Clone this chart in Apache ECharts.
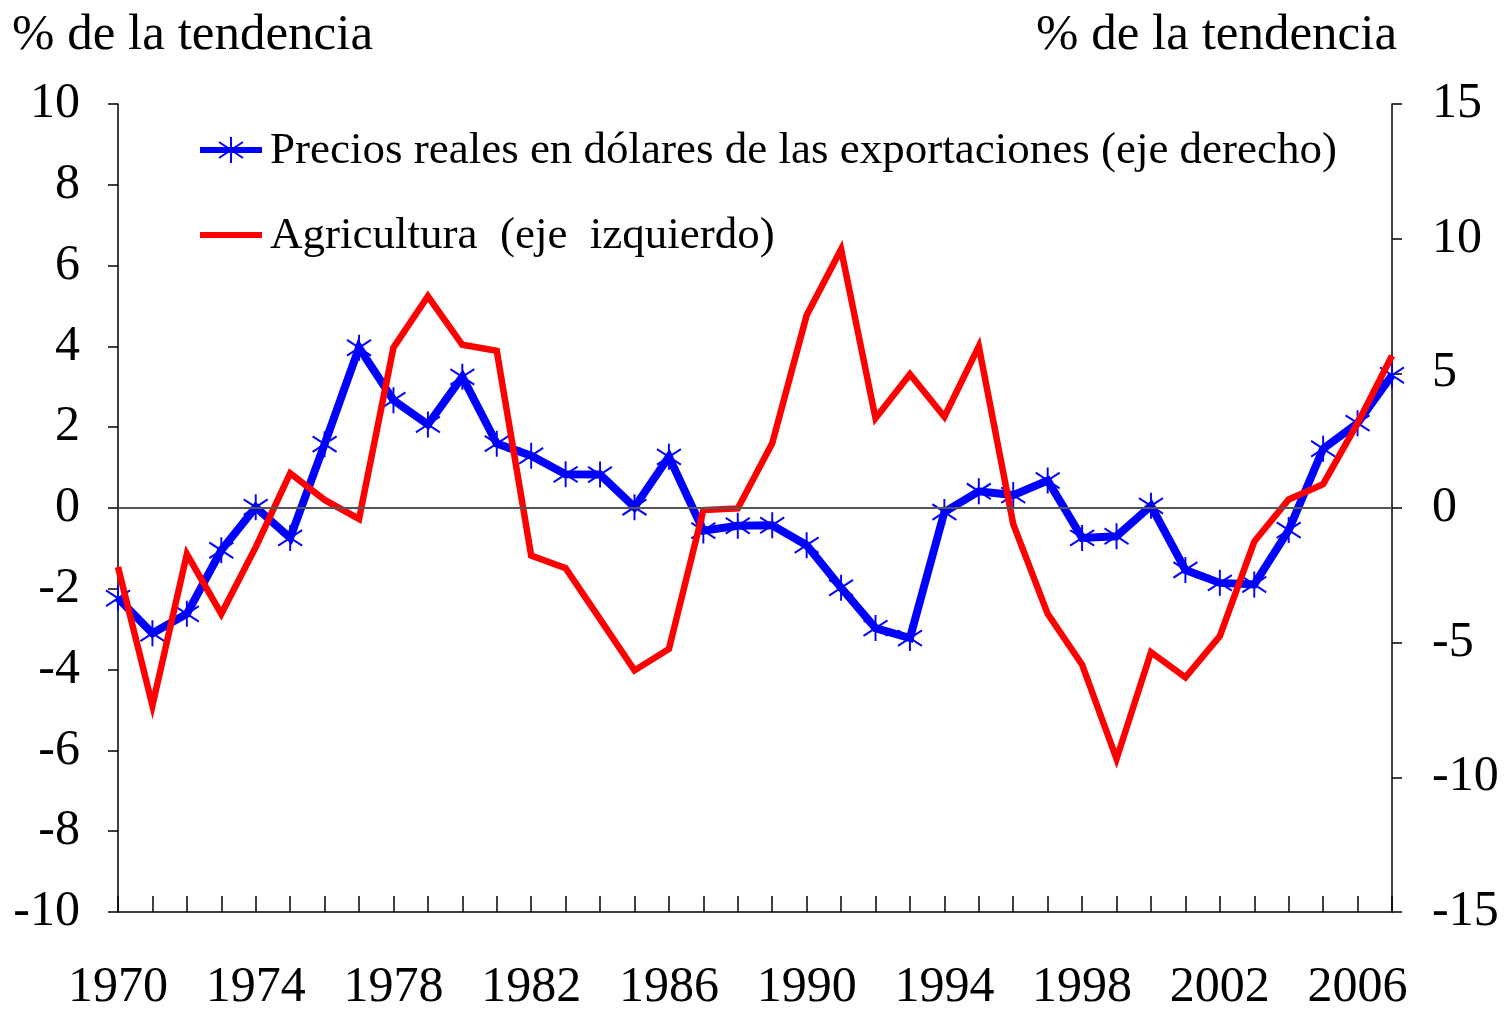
<!DOCTYPE html>
<html>
<head>
<meta charset="utf-8">
<script src="https://cdn.jsdelivr.net/npm/echarts@6/dist/echarts.min.js"></script>
<style>
html,body{margin:0;padding:0;background:#fff;}
#chart{width:1506px;height:1013px;}
</style>
</head>
<body>
<div id="chart"></div>
<script>
var years = ['1970','1971','1972','1973','1974','1975','1976','1977','1978','1979',
  '1980','1981','1982','1983','1984','1985','1986','1987','1988','1989',
  '1990','1991','1992','1993','1994','1995','1996','1997','1998','1999',
  '2000','2001','2002','2003','2004','2005','2006','2007'];
// Right axis series
var preciosReales = [-3.35,-4.65,-3.93,-1.57,0.03,-1.11,2.37,5.95,4.0,3.1,
  4.87,2.39,1.94,1.25,1.24,0.03,1.9,-0.84,-0.66,-0.64,
  -1.38,-2.96,-4.46,-4.83,-0.15,0.62,0.48,1.02,-1.11,-1.05,
  0.08,-2.3,-2.78,-2.84,-0.82,2.2,3.15,4.93];
// Left axis series
var agricultura = [-1.46,-4.89,-1.14,-2.62,-0.97,0.86,0.2,-0.27,3.97,5.24,
  4.04,3.89,-1.18,-1.49,-2.75,-4.02,-3.49,-0.05,-0.01,1.6,
  4.77,6.4,2.22,3.31,2.26,4.0,-0.4,-2.62,-3.88,-6.21,
  -3.57,-4.19,-3.17,-0.83,0.21,0.59,2.1,3.77];
var nameBlue = 'Precios reales en dólares de las exportaciones (eje derecho)';
var nameRed = 'Agricultura  (eje  izquierdo)';
var axisTitle = '% de la tendencia';

var FONT = 'Liberation Serif';
var chart = echarts.init(document.getElementById('chart'));
var star = 'path://M10,0L10,20M0,4L20,16M0,16L20,4';
var BLUE = '#0000ff', RED = '#ff0000';
function starLines(cx, cy) {
  var w = 12, h = 13, d = 8;
  return [
    {type:'line', shape:{x1:cx, y1:cy-h, x2:cx, y2:cy+h}, style:{stroke:BLUE, lineWidth:2}},
    {type:'line', shape:{x1:cx-w, y1:cy-d, x2:cx+w, y2:cy+d}, style:{stroke:BLUE, lineWidth:2}},
    {type:'line', shape:{x1:cx-w, y1:cy+d, x2:cx+w, y2:cy-d}, style:{stroke:BLUE, lineWidth:2}}
  ];
}
var legendGraphics = [
  {type:'line', shape:{x1:200, y1:150, x2:262, y2:150}, style:{stroke:BLUE, lineWidth:6}},
  {type:'text', left: 270, top: 129, style:{text: nameBlue, font: '45px "Liberation Serif"', fill:'#000'}},
  {type:'line', shape:{x1:200, y1:235, x2:262, y2:235}, style:{stroke:RED, lineWidth:6}},
  {type:'text', left: 270, top: 214, style:{text: nameRed, font: '45px "Liberation Serif"', fill:'#000'}}
].concat(starLines(231, 150));

chart.setOption({
  animation: false,
  backgroundColor: '#ffffff',
  grid: {left: 118, right: 114, top: 104, bottom: 100, containLabel: false},
  graphic: [
    {type:'text', left: 12, top: 10, style:{text: axisTitle, font: '51px "Liberation Serif"', fill:'#000'}},
    {type:'text', left: 1036, top: 10, style:{text: axisTitle, font: '51px "Liberation Serif"', fill:'#000'}}
  ].concat(legendGraphics),
  xAxis: {
    type: 'category', data: years, boundaryGap: false,
    axisLine: {onZero: false, lineStyle: {color: '#000', width: 1.5}},
    axisTick: {show: true, inside: true, length: 16, interval: 0, lineStyle:{color:'#000', width:1.5}},
    axisLabel: {interval: 3, color: '#000', fontFamily: FONT, fontSize: 50, margin: 51},
    splitLine: {show: false}
  },
  yAxis: [
    {type: 'value', min: -10, max: 10, interval: 2, position: 'left',
     axisLine: {show: true, lineStyle: {color: '#000', width: 1.5}},
     axisTick: {show: true, length: 10, lineStyle:{color:'#000', width:1.5}},
     axisLabel: {color: '#000', fontFamily: FONT, fontSize: 50, margin: 38},
     splitLine: {show: false}},
    {type: 'value', min: -15, max: 15, interval: 5, position: 'right',
     axisLine: {show: true, lineStyle: {color: '#000', width: 1.5}},
     axisTick: {show: true, length: 10, lineStyle:{color:'#000', width:1.5}},
     axisLabel: {color: '#000', fontFamily: FONT, fontSize: 50, margin: 40},
     splitLine: {show: false}}
  ],
  series: [
    {name: nameBlue, type: 'line', yAxisIndex: 1, data: preciosReales,
     symbol: star, symbolSize: [24, 26], showSymbol: true, showAllSymbol: true,
     itemStyle: {color: BLUE, borderColor: BLUE, borderWidth: 2},
     lineStyle: {color: BLUE, width: 8, join: 'miter'},
     markLine: {silent: true, symbol: ['none','none'], label:{show:false},
       lineStyle:{color:'#555', width:2, type:'solid'},
       data: [{yAxis: 0}]},
     z: 2},
    {name: nameRed, type: 'line', yAxisIndex: 0, data: agricultura,
     symbol: 'none', showSymbol: false,
     itemStyle: {color: RED},
     lineStyle: {color: RED, width: 6.5, join: 'miter'},
     z: 3}
  ]
});
</script>
</body>
</html>
